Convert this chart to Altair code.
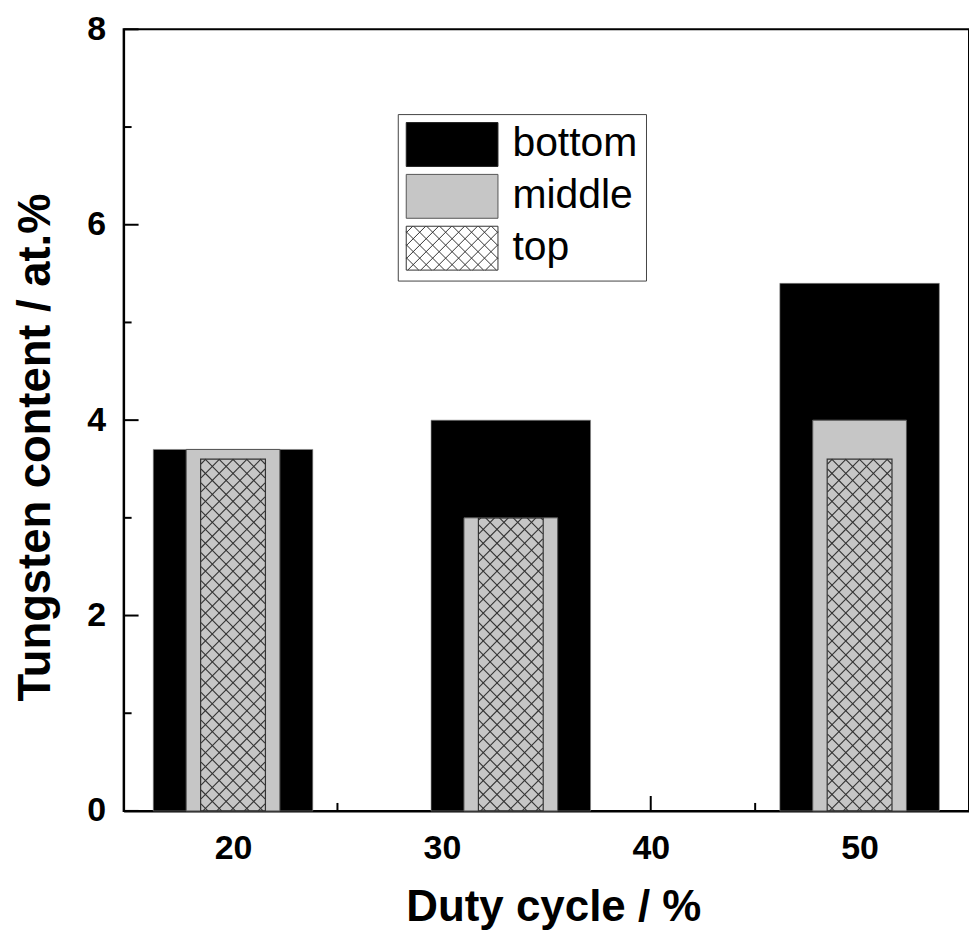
import altair as alt
import numpy as np
import pandas as pd

# ---- data ----
duty = [20, 33.3, 50]
bottom = [3.7, 4.0, 5.4]
middle = [3.7, 3.0, 4.0]
top = [3.6, 3.0, 3.6]
series = ["bottom", "middle", "top"]
x_major = [20, 30, 40, 50]
x_minor = [25, 35, 45]
y_major = [0, 2, 4, 6, 8]
y_minor = [1, 3, 5, 7]

# ---- layout / style constants ----
W, H = 848, 784
XDOM, YDOM = [15, 55], [0, 8]
PX = W / (XDOM[1] - XDOM[0])
PY = H / (YDOM[1] - YDOM[0])
BW_BOTTOM, BW_MIDDLE, BW_TOP = 160, 94, 65
HATCH = 14.0
FONT = "Liberation Sans"
SYM_W, SYM_H = 92, 44


def hatch_segments(w, h, s):
    segs = []
    for k in np.arange(-w + s / 2, h, s):
        u0, u1 = max(0.0, -k), min(w, h - k)
        if u1 > u0:
            segs.append((u0, u0 + k, u1, u1 + k))
    for k in np.arange(s / 2, w + h, s):
        u0, u1 = max(0.0, k - h), min(w, k)
        if u1 > u0:
            segs.append((u0, k - u0, u1, k - u1))
    return segs


rows = []
for d, v in zip(duty, top):
    x0 = d - BW_TOP / 2 / PX
    for u0, v0, u1, v1 in hatch_segments(BW_TOP, v * PY, HATCH):
        rows.append({"x": x0 + u0 / PX, "y": v0 / PY, "x2": x0 + u1 / PX, "y2": v1 / PY})
hatch_df = pd.DataFrame(rows)

# legend symbol paths: unit = half of symbol height
hw = SYM_W / SYM_H
rect = f"M{-hw:.4f},-1L{hw:.4f},-1L{hw:.4f},1L{-hw:.4f},1Z"
lp = []
for u0, v0, u1, v1 in hatch_segments(2 * hw, 2.0, 13 / (SYM_H / 2)):
    lp.append(f"M{u0 - hw:.4f},{v0 - 1:.4f}L{u1 - hw:.4f},{v1 - 1:.4f}")
rect_hatch = rect + "".join(lp)

bars_df = pd.DataFrame({"duty": duty, "bottom": bottom, "middle": middle, "top": top})
leg_df = pd.DataFrame({"series": series, "duty": duty, "v": top})

xs = alt.Scale(domain=XDOM, nice=False, zero=False)
ys = alt.Scale(domain=YDOM, nice=False)
xaxis = alt.Axis(values=x_major, ticks=False, tickSize=0, grid=False, domainColor="black",
                 domainWidth=2, labelFont=FONT, labelFontSize=34, labelFontWeight="bold",
                 labelColor="black", labelPadding=21, title="Duty cycle / %", titleFont=FONT,
                 titleFontSize=44, titleFontWeight="bold", titleColor="black",
                 titleBaseline="alphabetic", titleY=110, titleX=431)
yaxis = alt.Axis(values=y_major, ticks=False, tickSize=0, grid=False, domainColor="black",
                 domainWidth=2, labelFont=FONT, labelFontSize=34, labelFontWeight="bold",
                 labelColor="black", labelPadding=18, title="Tungsten content / at.%",
                 titleFont=FONT, titleFontSize=45.5, titleFontWeight="bold", titleColor="black",
                 titleAngle=270, titleBaseline="alphabetic", titleX=-74, titleY=419)

X = alt.X("duty:Q", scale=xs, axis=xaxis)

tick_y_major = alt.Chart(pd.DataFrame({"t": y_major})).mark_rule(color="black", strokeWidth=2).encode(
    y=alt.Y("t:Q", scale=ys, axis=yaxis), x=alt.value(0), x2=alt.value(15))
tick_y_minor = alt.Chart(pd.DataFrame({"t": y_minor})).mark_rule(color="black", strokeWidth=2).encode(
    y=alt.Y("t:Q", scale=ys, axis=yaxis), x=alt.value(0), x2=alt.value(8))
tick_x_major = alt.Chart(pd.DataFrame({"t": x_major})).mark_rule(color="black", strokeWidth=2).encode(
    x=alt.X("t:Q", scale=xs, axis=xaxis), y=alt.value(H), y2=alt.value(H - 15))
tick_x_minor = alt.Chart(pd.DataFrame({"t": x_minor})).mark_rule(color="black", strokeWidth=2).encode(
    x=alt.X("t:Q", scale=xs, axis=xaxis), y=alt.value(H), y2=alt.value(H - 8))

bar_bottom = alt.Chart(bars_df).mark_bar(size=BW_BOTTOM, fill="black", stroke="#888",
                                         strokeWidth=0.6).encode(
    x=X, y=alt.Y("bottom:Q", scale=ys, axis=yaxis))
bar_middle = alt.Chart(bars_df).mark_bar(size=BW_MIDDLE, fill="#c6c6c6", stroke="#555",
                                         strokeWidth=1).encode(
    x=X, y=alt.Y("middle:Q", scale=ys, axis=yaxis))
bar_top = alt.Chart(bars_df).mark_bar(size=BW_TOP, fill="transparent", stroke="#333",
                                      strokeWidth=1.2).encode(
    x=X, y=alt.Y("top:Q", scale=ys, axis=yaxis))
hatch = alt.Chart(hatch_df).mark_rule(color="#333", strokeWidth=1.1).encode(
    x=alt.X("x:Q", scale=xs, axis=xaxis), y=alt.Y("y:Q", scale=ys, axis=yaxis),
    x2="x2:Q", y2="y2:Q")

shift = (SYM_W - SYM_H) / 2
legend = alt.Legend(orient="none", legendX=275, legendY=85, padding=8, strokeColor="#444",
                    fillColor="white", labelFont=FONT, labelFontSize=41, labelColor="black",
                    labelOffset=38, symbolOffset=shift, rowPadding=3,
                    symbolSize=SYM_H * SYM_H, symbolStrokeWidth=1,
                    symbolStrokeColor="#333", symbolOpacity=1, labelLimit=400)
leg_layer = alt.Chart(leg_df).mark_point(filled=True, opacity=0, size=SYM_H * SYM_H).encode(
    x=X, y=alt.Y("v:Q", scale=ys, axis=yaxis),
    fill=alt.Fill("series:N", title=None,
                  scale=alt.Scale(domain=series, range=["black", "#c6c6c6", "white"]),
                  legend=legend),
    stroke=alt.Stroke("series:N", title=None,
                      scale=alt.Scale(domain=series, range=["#222", "#555", "#333"]),
                      legend=legend),
    shape=alt.Shape("series:N", title=None,
                    scale=alt.Scale(domain=series, range=[rect, rect, rect_hatch]),
                    legend=legend))

chart = alt.layer(tick_y_major, tick_y_minor, tick_x_major, tick_x_minor, leg_layer,
                  bar_bottom, bar_middle, bar_top, hatch).properties(
    width=W, height=H, autosize=alt.AutoSizeParams(type="none"),
    padding={"left": 124, "top": 28, "right": 0, "bottom": 120},
    background="white").configure_view(stroke="black", strokeWidth=2)

chart.save("out.html", embed_options={"renderer": "svg", "actions": False})
